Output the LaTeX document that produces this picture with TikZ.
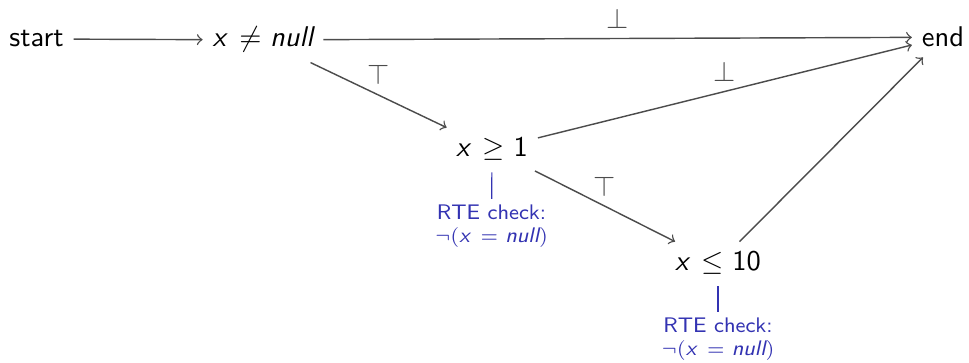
\documentclass[tikz,border=0pt]{standalone}
\definecolor{rteblue}{rgb}{0.2,0.2,0.7}
\definecolor{edgegray}{gray}{0.3}
\newcommand{\mv}[1]{\mathord{\textsf{\itshape #1}}}
\newcommand{\mn}[1]{\mathord{\textsf{#1}}}
\newcommand{\rel}[1]{\mskip3.5mu#1\mskip0.5mu}
\begin{document}
\begin{tikzpicture}[x=0.3509pt,y=-0.3509pt,
  every node/.style={font=\sffamily},
  state/.style={anchor=base, inner sep=3.33pt},
  flow/.style={->, draw=edgegray, line width=0.5pt},
  cond/.style={text=edgegray, midway, above},
  rte/.style={text=rteblue, font=\sffamily\fontsize{7.4}{8.1}\selectfont, align=center},
  rtelink/.style={draw=rteblue, line width=0.4pt, shorten <=0.5pt, shorten >=-1.5pt}]
\useasboundingbox (0,0) rectangle (969,363);
\node[state] (start) at (36.5,47) {start};
\node[state] (xnn) at (263,47) {$\mv{x} \rel{\neq} \mv{null}$};
\node[state] (end) at (943,47) {end};
\node[state] (ge) at (492,157) {$\mv{x} \rel{\geq} \mn{1}$};
\node[state] (le) at (718,271) {$\mv{x} \rel{\leq} \mn{10}$};
\node[rte] (rte1) at (491.5,226) {RTE check:\\$\neg(\mv{x} \rel{=} \mv{null})$};
\node[rte] (rte2) at (718,339.5) {RTE check:\\$\neg(\mv{x} \rel{=} \mv{null})$};
\draw[flow] (start) -- (xnn);
\draw[flow] (xnn) -- node[cond]{$\bot$} (end);
\draw[flow] (xnn) -- node[cond]{$\top$} (ge);
\draw[flow] (ge) -- node[cond]{$\bot$} (end);
\draw[flow] (ge) -- node[cond]{$\top$} (le);
\draw[flow] (le) -- (end);
\draw[rtelink] (ge) -- (rte1);
\draw[rtelink] (le) -- (rte2);
\end{tikzpicture}
\end{document}
